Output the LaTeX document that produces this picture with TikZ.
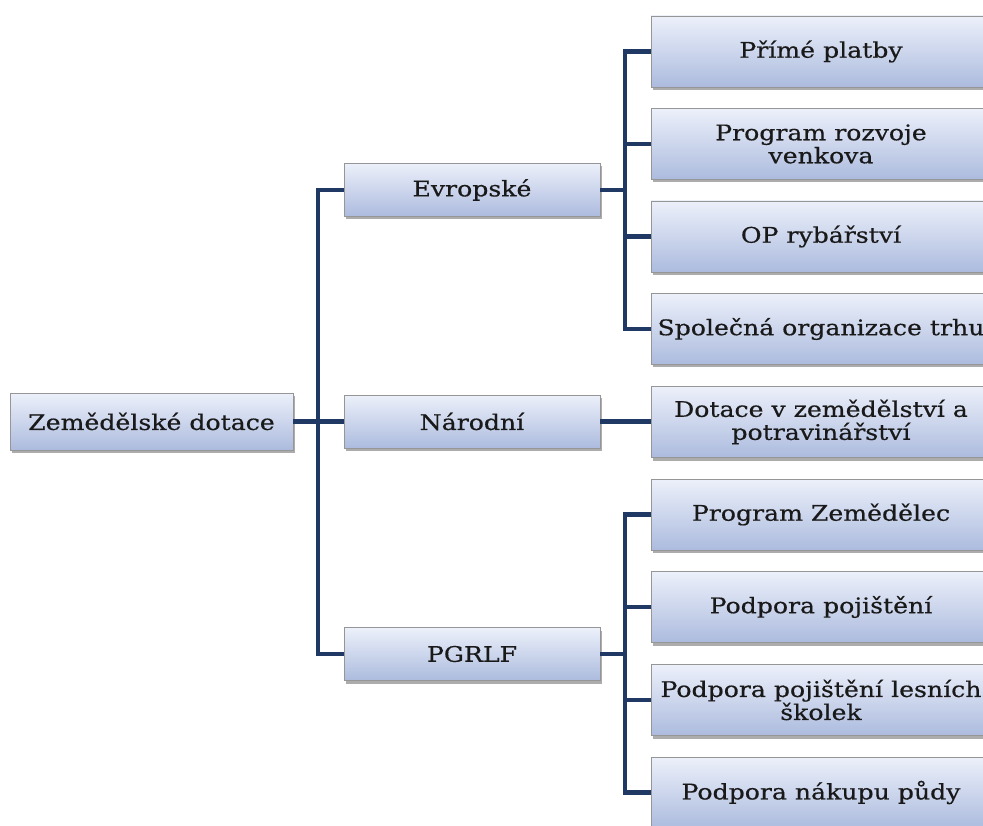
\documentclass[tikz,border=0pt]{standalone}
\usepackage{fontspec}
\setmainfont{DejaVu Serif}[FakeStretch=1.17, FakeBold=0.5]
\usetikzlibrary{shadows}
\definecolor{lineblue}{RGB}{31,56,100}
\definecolor{boxtop}{RGB}{236,240,250}
\definecolor{boxbot}{RGB}{172,187,222}
\definecolor{boxedge}{RGB}{150,150,150}
\tikzset{
  box/.style={draw=boxedge, line width=0.8pt, top color=boxtop, bottom color=boxbot,
    inner sep=0pt, align=center, font=\fontsize{21.5}{23}\selectfont, text=black!90,
    drop shadow={shadow xshift=2pt, shadow yshift=-3pt, opacity=0.5, fill=black!65}},
  rootbox/.style={box, minimum width=283pt, minimum height=57pt},
  midbox/.style={box, minimum width=256pt, minimum height=53pt},
  leafbox/.style={box, minimum width=340pt, minimum height=71pt},
  conn/.style={draw=lineblue, line width=4.2pt}
}
\begin{document}
\begin{tikzpicture}[x=1pt,y=-1pt]
\useasboundingbox (0,0) rectangle (983,826);
\node[rootbox] (root) at (151.5,421.5) {Zemědělské dotace};
\node[midbox] (evr) at (472,190) {Evropské};
\node[midbox] (nar) at (472,421.5) {Národní};
\node[midbox] (pgr) at (472,654) {PGRLF};
\node[leafbox] (l1) at (821,51.5) {Přímé platby};
\node[leafbox] (l2) at (821,144) {Program rozvoje\\venkova};
\node[leafbox] (l3) at (821,236.5) {OP rybářství};
\node[leafbox] (l4) at (821,329) {Společná organizace trhu};
\node[leafbox] (l5) at (821,422) {Dotace v zemědělství a\\potravinářství};
\node[leafbox] (l6) at (821,514.5) {Program Zemědělec};
\node[leafbox] (l7) at (821,607) {Podpora pojištění};
\node[leafbox] (l8) at (821,700) {Podpora pojištění lesních\\školek};
\node[leafbox] (l9) at (821,792.5) {Podpora nákupu půdy};
% connectors
\coordinate (t0) at (318,0);
\coordinate (t1) at (625,0);
\draw[conn] (root.east) -- (root.east -| t0);
\draw[conn] (evr.west) -- (evr.west -| t0) -- (pgr.west -| t0) -- (pgr.west);
\draw[conn] (nar.west) -- (nar.west -| t0);
\draw[conn] (evr.east) -- (evr.east -| t1);
\draw[conn] (l1.west) -- (l1.west -| t1) -- (l4.west -| t1) -- (l4.west);
\draw[conn] (l2.west) -- (l2.west -| t1);
\draw[conn] (l3.west) -- (l3.west -| t1);
\draw[conn] (nar.east) -- (l5.west |- nar.east);
\draw[conn] (pgr.east) -- (pgr.east -| t1);
\draw[conn] (l6.west) -- (l6.west -| t1) -- (l9.west -| t1) -- (l9.west);
\draw[conn] (l7.west) -- (l7.west -| t1);
\draw[conn] (l8.west) -- (l8.west -| t1);
\end{tikzpicture}
\end{document}
